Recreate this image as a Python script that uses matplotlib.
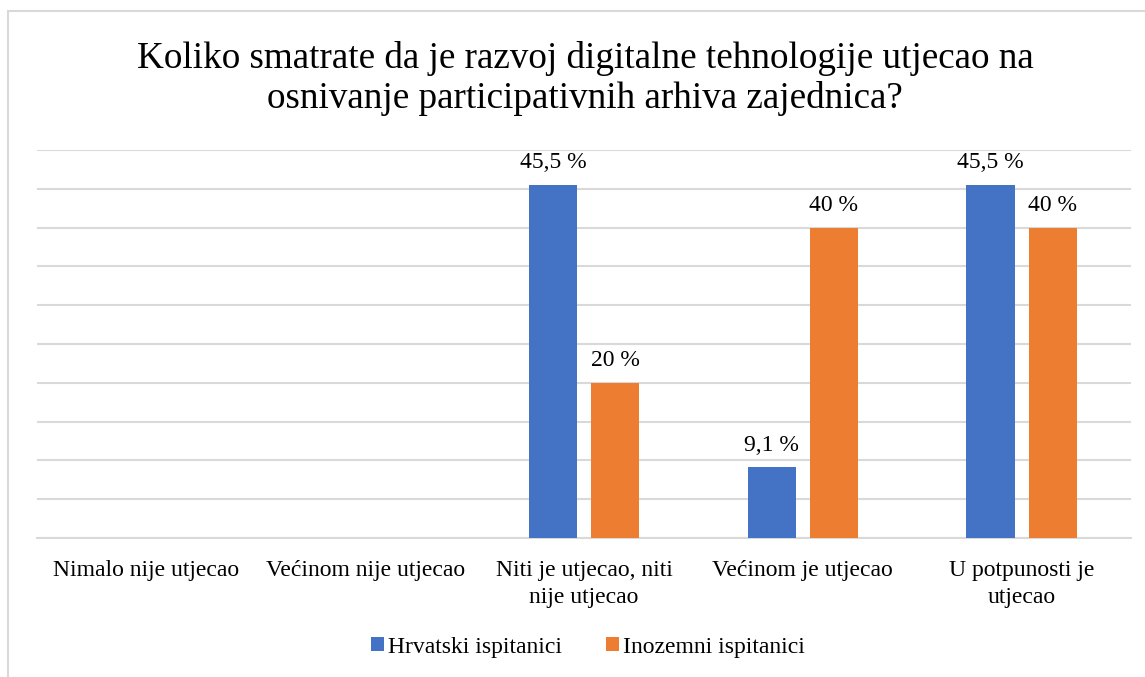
import matplotlib.pyplot as plt
from matplotlib.patches import Rectangle

# chart values
categories = ['Nimalo nije utjecao', 'Većinom nije utjecao',
              'Niti je utjecao, niti\nnije utjecao', 'Većinom je utjecao',
              'U potpunosti je\nutjecao']
hrvatski = [0, 0, 45.5, 9.1, 45.5]
inozemni = [0, 0, 20, 40, 40]
hrvatski_labels = ['', '', '45,5 %', '9,1 %', '45,5 %']
inozemni_labels = ['', '', '20 %', '40 %', '40 %']
series_names = ['Hrvatski ispitanici', 'Inozemni ispitanici']

plt.rcParams['font.family'] = ['Liberation Serif', 'DejaVu Serif']

fig = plt.figure(figsize=(11.45, 6.77), dpi=100)
# light frame around the chart, cut off at right and bottom like the original
fig.patches.append(Rectangle((8 / 1145, -0.1), 1.2, 1 - 11 / 677 + 0.1,
                             transform=fig.transFigure, fill=False,
                             edgecolor='#D9D9D9', linewidth=1.5))

ax = fig.add_axes([37 / 1145, 1 - 538 / 677, (1131 - 37) / 1145, (538 - 150) / 677])

x = list(range(len(categories)))
width = 0.22
off = 0.142
b1 = ax.bar([i - off for i in x], hrvatski, width, color='#4472C4',
            label=series_names[0], zorder=3)
b2 = ax.bar([i + off for i in x], inozemni, width, color='#ED7D31',
            label=series_names[1], zorder=3)
ax.bar_label(b1, labels=hrvatski_labels, padding=8.5, fontsize=17)
ax.bar_label(b2, labels=inozemni_labels, padding=8.5, fontsize=17)

ax.set_xlim(-0.5, len(categories) - 0.5)
ax.set_ylim(0, 50)
ax.set_yticks(range(0, 51, 5))
ax.set_yticklabels([])
ax.tick_params(axis='y', length=0)
ax.tick_params(axis='x', length=0, pad=16, labelsize=17)
ax.set_xticks(x)
ax.set_xticklabels(categories, linespacing=1.33)
ax.grid(axis='y', color='#D9D9D9', linewidth=1.5, zorder=0)
for s in ['top', 'right', 'left']:
    ax.spines[s].set_visible(False)
ax.spines['bottom'].set_color('#D9D9D9')
ax.spines['bottom'].set_linewidth(1.5)

fig.suptitle('Koliko smatrate da je razvoj digitalne tehnologije utjecao na\n'
             'osnivanje participativnih arhiva zajednica?',
             fontsize=26.7, x=585 / 1145, y=1 - 41 / 677, va='top',
             linespacing=1.17)

fig.legend(loc='center', bbox_to_anchor=(588 / 1145, 1 - 647 / 677), ncol=2,
           frameon=False, fontsize=17, handlelength=0.55, handleheight=0.55,
           handletextpad=0.15, columnspacing=1.9)

fig.savefig('out.png', dpi=100)
